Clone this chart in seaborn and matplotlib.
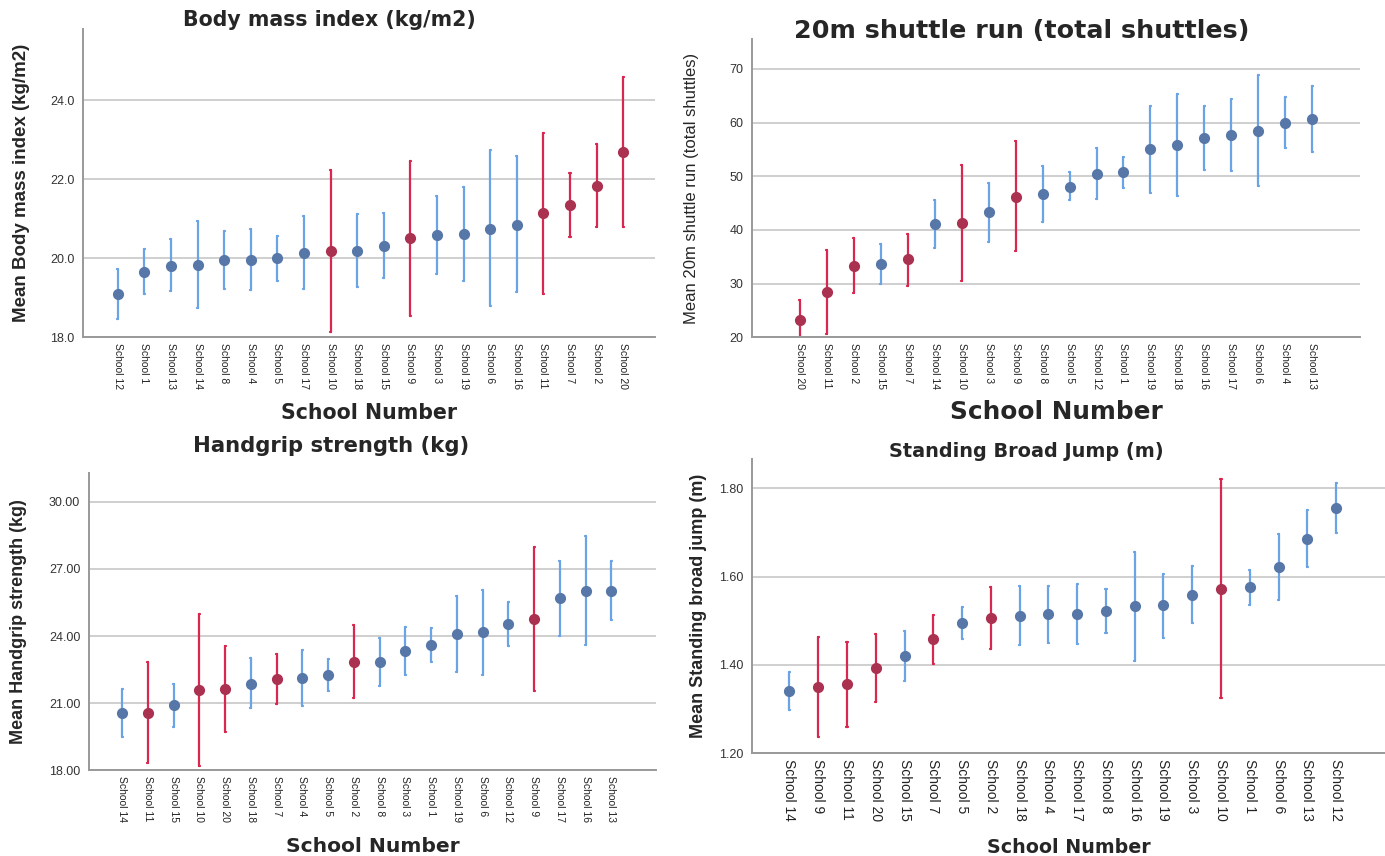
import matplotlib
matplotlib.use("Agg")
import matplotlib.pyplot as plt
import seaborn as sns
import pandas as pd

# schools drawn in red in every panel
red_schools = ["School 2", "School 7", "School 9", "School 10", "School 11", "School 20"]

# Body mass index (kg/m2)
bmi_order = ["School 12", "School 1", "School 13", "School 14", "School 8", "School 4",
             "School 5", "School 17", "School 10", "School 18", "School 15", "School 9",
             "School 3", "School 19", "School 6", "School 16", "School 11", "School 7",
             "School 2", "School 20"]
bmi_mean = [19.10, 19.65, 19.81, 19.83, 19.95, 19.95, 20.00, 20.13, 20.19, 20.19,
            20.31, 20.51, 20.59, 20.61, 20.75, 20.85, 21.14, 21.36, 21.83, 22.70]
bmi_low = [18.45, 19.10, 19.16, 18.74, 19.23, 19.20, 19.43, 19.21, 18.14, 19.28,
           19.49, 18.55, 19.60, 19.43, 18.78, 19.15, 19.10, 20.55, 20.78, 20.80]
bmi_high = [19.73, 20.24, 20.48, 20.94, 20.68, 20.73, 20.56, 21.07, 22.24, 21.11,
            21.15, 22.46, 21.58, 21.80, 22.73, 22.58, 23.17, 22.16, 22.89, 24.60]

# 20m shuttle run (total shuttles)
run_order = ["School 20", "School 11", "School 2", "School 15", "School 7", "School 14",
             "School 10", "School 3", "School 9", "School 8", "School 5", "School 12",
             "School 1", "School 19", "School 18", "School 16", "School 17", "School 6",
             "School 4", "School 13"]
run_mean = [23.2, 28.5, 33.3, 33.7, 34.5, 41.1, 41.2, 43.3, 46.2, 46.6,
            48.0, 50.5, 50.8, 55.0, 55.9, 57.1, 57.7, 58.5, 59.9, 60.7]
run_low = [19.4, 20.7, 28.2, 29.9, 29.6, 36.6, 30.4, 37.7, 36.1, 41.4,
           45.5, 45.7, 47.9, 46.9, 46.3, 51.1, 51.0, 48.1, 55.2, 54.6]
run_high = [26.9, 36.3, 38.5, 37.4, 39.2, 45.6, 52.1, 48.8, 56.5, 51.9,
            50.7, 55.3, 53.6, 63.1, 65.4, 63.0, 64.3, 68.8, 64.7, 66.8]

# Handgrip strength (kg)
grip_order = ["School 14", "School 11", "School 15", "School 10", "School 20", "School 18",
              "School 7", "School 4", "School 5", "School 2", "School 8", "School 3",
              "School 1", "School 19", "School 6", "School 12", "School 9", "School 17",
              "School 16", "School 13"]
grip_mean = [20.55, 20.55, 20.91, 21.58, 21.64, 21.87, 22.07, 22.11, 22.25, 22.83,
             22.83, 23.34, 23.60, 24.07, 24.17, 24.53, 24.74, 25.68, 26.02, 26.03]
grip_low = [19.49, 18.31, 19.94, 18.18, 19.71, 20.77, 20.95, 20.88, 21.53, 21.23,
            21.76, 22.26, 22.84, 22.38, 22.28, 23.54, 21.53, 24.02, 23.59, 24.72]
grip_high = [21.62, 22.83, 21.87, 25.00, 23.54, 23.02, 23.19, 23.37, 22.98, 24.47,
             23.93, 24.42, 24.38, 25.79, 26.06, 25.50, 27.96, 27.36, 28.46, 27.37]

# Standing broad jump (m)
jump_order = ["School 14", "School 9", "School 11", "School 20", "School 15", "School 7",
              "School 5", "School 2", "School 18", "School 4", "School 17", "School 8",
              "School 16", "School 19", "School 3", "School 10", "School 1", "School 6",
              "School 13", "School 12"]
jump_mean = [1.341, 1.350, 1.356, 1.393, 1.420, 1.458, 1.495, 1.506, 1.511, 1.515,
             1.515, 1.522, 1.533, 1.535, 1.559, 1.573, 1.576, 1.622, 1.686, 1.755]
jump_low = [1.298, 1.236, 1.260, 1.317, 1.363, 1.403, 1.458, 1.436, 1.446, 1.450,
            1.448, 1.472, 1.409, 1.461, 1.494, 1.326, 1.536, 1.547, 1.623, 1.700]
jump_high = [1.384, 1.464, 1.452, 1.471, 1.478, 1.514, 1.531, 1.576, 1.579, 1.580,
             1.583, 1.572, 1.657, 1.607, 1.624, 1.821, 1.616, 1.696, 1.751, 1.812]

BLUE_BAR, BLUE_DOT = "#6aa3e6", "#5677a8"
RED_BAR, RED_DOT = "#d92850", "#aa3150"
WIDE = ["DejaVu Sans"]


def long_table(order, mean, low, high):
    rows = []
    for s, m, lo, hi in zip(order, mean, low, high):
        for v in (lo, m, hi):
            rows.append({"school": s, "value": v,
                         "group": "red" if s in red_schools else "blue"})
    return pd.DataFrame(rows)


def panel(ax, order, mean, low, high, title, ylabel, ylim, yticks, fmt, xlim,
          title_size, title_x, title_pad, ylabel_size, ylabel_weight, ylabel_pad,
          xtick_size, xlabel_size, xlabel_pad):
    df = long_table(order, mean, low, high)
    for grp, bar_c, dot_c in (("blue", BLUE_BAR, BLUE_DOT), ("red", RED_BAR, RED_DOT)):
        sub = df[df["group"] == grp]
        sns.pointplot(data=sub, x="school", y="value", order=order, ax=ax,
                      estimator="median", errorbar=lambda v: (v.min(), v.max()),
                      linestyle="none", marker="o", markersize=6, color=dot_c,
                      capsize=0.04, err_kws={"color": bar_c, "linewidth": 1.6, "zorder": 1.5})
    ax.set_ylim(*ylim)
    ax.set_xlim(*xlim)
    ax.set_yticks(yticks)
    ax.set_yticklabels([fmt.format(t) for t in yticks], fontsize=9, color="#333333")
    ax.set_xticks(range(len(order)))
    ax.set_xticklabels(order, rotation=-90, fontsize=xtick_size, color="#222222")
    ax.grid(axis="y", color="#cccccc", linewidth=1.3)
    ax.grid(axis="x", visible=False)
    ax.set_axisbelow(True)
    ax.tick_params(axis="y", length=0, pad=6)
    ax.tick_params(axis="x", length=0, pad=4)
    for side in ("top", "right"):
        ax.spines[side].set_visible(False)
    for side in ("left", "bottom"):
        ax.spines[side].set_color("#999999")
        ax.spines[side].set_linewidth(1.4)
    ax.set_title(title, fontsize=title_size, fontweight="bold", family=WIDE,
                 x=title_x, pad=title_pad)
    ax.set_ylabel(ylabel, fontsize=ylabel_size, fontweight=ylabel_weight,
                  labelpad=ylabel_pad)
    ax.set_xlabel("School Number", fontsize=xlabel_size, fontweight="bold",
                  family=WIDE, labelpad=xlabel_pad)


sns.set_style("white")
plt.rcParams["font.family"] = ["Liberation Sans", "DejaVu Sans"]

fig = plt.figure(figsize=(13.85, 8.56), dpi=100)
ax1 = fig.add_axes([0.060, 0.606, 0.413, 0.360])
ax2 = fig.add_axes([0.543, 0.606, 0.439, 0.348])
ax3 = fig.add_axes([0.064, 0.100, 0.410, 0.348])
ax4 = fig.add_axes([0.543, 0.120, 0.457, 0.344])

panel(ax1, bmi_order, bmi_mean, bmi_low, bmi_high, "Body mass index (kg/m2)",
      "Mean Body mass index (kg/m2)", (18, 25.8), [18, 20, 22, 24], "{:.1f}", (-1.3, 20.2),
      14.8, 0.43, 2, 13.5, "bold", 15, 7.5, 14.8, 10)
panel(ax2, run_order, run_mean, run_low, run_high, "20m shuttle run (total shuttles)",
      "Mean 20m shuttle run (total shuttles)", (20, 75.5), [20, 30, 40, 50, 60, 70], "{:.0f}",
      (-1.77, 20.77), 18.3, 0.443, 1, 12, "normal", 22, 7.5, 17.8, 8)
panel(ax3, grip_order, grip_mean, grip_low, grip_high, "Handgrip strength (kg)",
      "Mean Handgrip strength (kg)", (18, 31.3), [18, 21, 24, 27, 30], "{:.2f}",
      (-1.3, 20.75), 15.2, 0.427, 15, 13, "bold", 16, 7.5, 14.6, 11)
panel(ax4, jump_order, jump_mean, jump_low, jump_high, "Standing Broad Jump (m)",
      "Mean Standing broad jump (m)", (1.2, 1.867), [1.2, 1.4, 1.6, 1.8], "{:.2f}",
      (-1.3, 20.7), 13.9, 0.434, 1, 13, "bold", 9, 10, 13.7, 12)

fig.savefig("out.png", dpi=100)
